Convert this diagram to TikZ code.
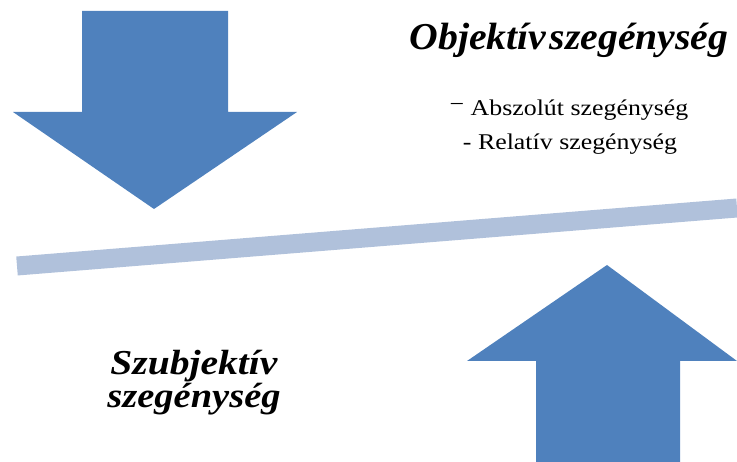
\documentclass[tikz,border=0pt]{standalone}
\usepackage{fontspec}
\setmainfont{Liberation Serif}
\definecolor{arrowblue}{HTML}{4F81BD}
\definecolor{barblue}{HTML}{B0C1DB}
\begin{document}
\begin{tikzpicture}[x=1pt,y=-1pt,
  bigarrow/.style={fill=arrowblue,draw=none},
  titletext/.style={anchor=base,inner sep=0pt,font=\fontsize{38}{38}\selectfont\bfseries\itshape},
  subjtext/.style={anchor=base,inner sep=0pt,font=\fontsize{35}{35}\selectfont\bfseries\itshape},
  itemtext/.style={anchor=base,inner sep=0pt,font=\fontsize{22.5}{22.5}\selectfont}]
\useasboundingbox (0,0) rectangle (737,462);
% down arrow
\fill[bigarrow] (82,11) -- (228,11) -- (228,112) -- (297,112) -- (154,209) -- (13,112) -- (82,112) -- cycle;
% up arrow
\fill[bigarrow] (607,265) -- (737,361) -- (680,361) -- (680,462) -- (536,462) -- (536,361) -- (467,361) -- cycle;
% tilted bar
\coordinate (barL) at (17,266);
\coordinate (barR) at (737,208);
\draw[barblue,line width=19pt] (barL) -- (barR);
% texts
\node[titletext] (obj) at (569,50) {\scalebox{1.045}[1]{Objektív\hspace{0.08em}szegénység}};
\node[itemtext] (abs) at (569,116) {\scalebox{1.15}[1]{\raisebox{4pt}{\textminus}\ Abszolút szegénység}};
\node[itemtext] (rel) at (570,150) {\scalebox{1.15}[1]{- Relatív szegénység}};
\node[subjtext,text depth=3pt] (szub1) at (194,375) {\scalebox{1.13}[1]{Szubjektív}};
\node[subjtext,text height=21pt] (szub2) at (194,408) {\scalebox{1.1}[1]{szegénység}};
\end{tikzpicture}
\end{document}
